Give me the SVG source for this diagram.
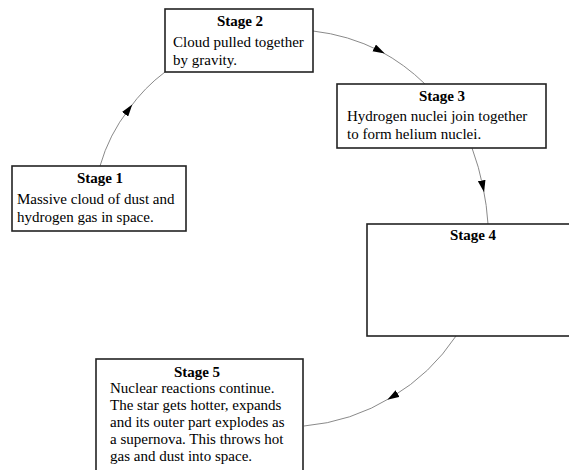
<svg xmlns="http://www.w3.org/2000/svg" width="569" height="470" viewBox="0 0 569 470">
<defs>
<style>
.box{fill:#fff;stroke:#222;stroke-width:1.6}
.t{font-family:"Liberation Serif","Times New Roman",serif;font-size:15px;fill:#000}
.h{font-weight:bold;text-anchor:middle}
.c{fill:none;stroke:#8a8a8a;stroke-width:1;marker-mid:url(#arr)}
</style>
<marker id="arr" markerUnits="userSpaceOnUse" markerWidth="12" markerHeight="8" refX="6" refY="3.5" orient="auto" viewBox="0 0 11 7">
<path d="M0,0 L11,3.5 L0,7 z" fill="#000"/>
</marker>
</defs>
<rect width="569" height="470" fill="#fff"/>
<g id="connectors">
<path class="c" d="M100,166 A167,167 0 0,1 129,109 A167,167 0 0,1 165,72"/>
<path class="c" d="M313,31 A197,197 0 0,1 380,51 A197,197 0 0,1 425,84"/>
<path class="c" d="M472,148 A253,253 0 0,1 483,187 A253,253 0 0,1 488,224"/>
<path class="c" d="M456,336 A200,200 0 0,1 392,397 A200,200 0 0,1 304,426"/>
</g>
<g id="stage1">
<rect class="box" x="12" y="166" width="174" height="65"/>
<text class="t h" x="100" y="183">Stage 1</text>
<text class="t" x="17" y="204">Massive cloud of dust and</text>
<text class="t" x="17" y="222">hydrogen gas in space.</text>
</g>
<g id="stage2">
<rect class="box" x="165" y="9" width="148" height="63"/>
<text class="t h" x="240" y="26">Stage 2</text>
<text class="t" x="173" y="47">Cloud pulled together</text>
<text class="t" x="173" y="65">by gravity.</text>
</g>
<g id="stage3">
<rect class="box" x="337" y="84" width="209" height="64"/>
<text class="t h" x="442" y="101">Stage 3</text>
<text class="t" x="347" y="121">Hydrogen nuclei join together</text>
<text class="t" x="347" y="139">to form helium nuclei.</text>
</g>
<g id="stage4">
<rect class="box" x="367" y="224" width="215" height="112"/>
<text class="t h" x="473" y="240">Stage 4</text>
</g>
<g id="stage5">
<rect class="box" x="96" y="359" width="207" height="120"/>
<text class="t h" x="197" y="377">Stage 5</text>
<text class="t" x="110" y="393">Nuclear reactions continue.</text>
<text class="t" x="110" y="410">The star gets hotter, expands</text>
<text class="t" x="110" y="427">and its outer part explodes as</text>
<text class="t" x="110" y="444">a supernova. This throws hot</text>
<text class="t" x="110" y="461">gas and dust into space.</text>
</g>
</svg>
